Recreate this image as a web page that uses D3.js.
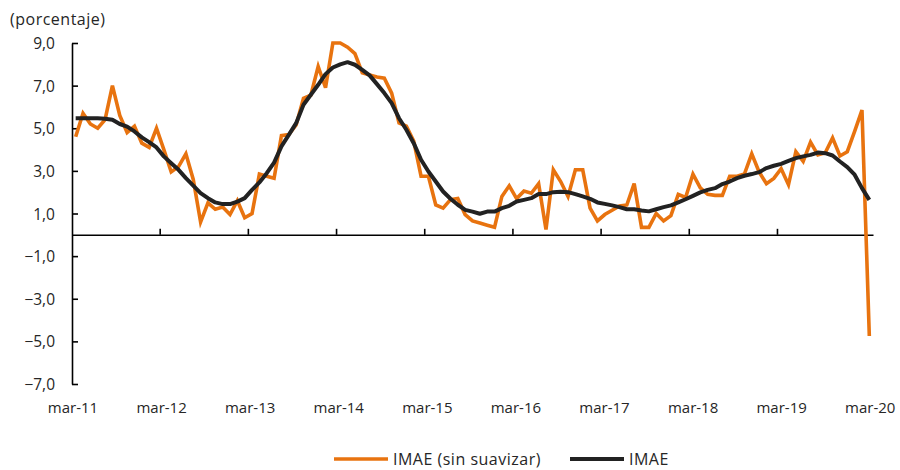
<!DOCTYPE html>
<html>
<head>
<meta charset="utf-8">
<script src="https://cdn.jsdelivr.net/npm/d3@7"></script>
<style>
  html, body { margin: 0; padding: 0; background: #ffffff; }
  svg { display: block; }
  text { font-family: "Open Sans", "Noto Sans", sans-serif; fill: #262626; }
</style>
</head>
<body>
<svg id="chart" width="900" height="470"></svg>
<script>
// ---- Data (monthly, mar-11 .. mar-20) ----
const tickLabels = ["mar-11","mar-12","mar-13","mar-14","mar-15","mar-16","mar-17","mar-18","mar-19","mar-20"];
const yTicks = [-7,-5,-3,-1,1,3,5,7,9];

const imaeRaw = [
  4.6,5.7,5.2,5.0,5.4,7.0,5.6,4.8,5.1,4.3,4.1,5.0,
  4.0,2.95,3.2,3.8,2.6,0.6,1.5,1.2,1.3,0.95,1.6,0.8,
  1.0,2.85,2.75,2.65,4.65,4.7,5.15,6.4,6.55,7.9,6.9,9.0,
  9.0,8.8,8.5,7.6,7.5,7.4,7.35,6.65,5.25,5.1,4.4,2.75,
  2.75,1.4,1.25,1.65,1.7,0.95,0.65,0.55,0.45,0.35,1.8,2.3,
  1.7,2.05,1.95,2.4,0.25,3.05,2.5,1.8,3.05,3.05,1.25,0.65,
  0.95,1.15,1.35,1.4,2.4,0.35,0.35,1.0,0.65,0.9,1.9,1.75,
  2.85,2.2,1.9,1.85,1.85,2.75,2.75,2.85,3.8,2.95,2.4,2.65,
  3.1,2.35,3.9,3.45,4.35,3.75,3.85,4.55,3.7,3.9,4.85,5.85,
  -4.75
];

const imae = [
  5.47,5.47,5.47,5.47,5.45,5.4,5.2,5.08,4.85,4.57,4.35,4.1,
  3.68,3.36,3.05,2.66,2.31,1.96,1.72,1.52,1.44,1.44,1.56,1.72,
  2.11,2.46,2.89,3.39,4.15,4.69,5.24,6.1,6.57,7.04,7.54,7.85,
  8.0,8.1,7.98,7.74,7.48,7.07,6.65,6.18,5.47,4.93,4.3,3.52,
  2.97,2.5,2.03,1.69,1.41,1.17,1.09,0.99,1.09,1.09,1.25,1.36,
  1.56,1.64,1.72,1.91,1.91,2.0,2.02,2.0,1.91,1.8,1.69,1.52,
  1.45,1.38,1.3,1.2,1.2,1.14,1.1,1.2,1.3,1.38,1.52,1.67,
  1.83,1.99,2.11,2.19,2.38,2.5,2.66,2.77,2.85,2.94,3.13,3.24,
  3.33,3.47,3.6,3.68,3.75,3.86,3.83,3.72,3.44,3.18,2.82,2.19,
  1.64
];

const seriesNames = ["IMAE (sin suavizar)", "IMAE"];
const seriesColors = ["#E8730F", "#222222"];

// ---- Layout ----
const svg = d3.select("#chart");
const plotLeft = 72, plotRight = 873, plotTop = 43, plotBottom = 384;

const months = d3.range(imae.length);
const x = d3.scaleBand().domain(months).range([plotLeft, plotRight]).padding(0);
const cx = i => x(i) + x.bandwidth() / 2;
const y = d3.scaleLinear().domain([-7, 9]).range([plotBottom, plotTop]);

// Y axis (ticks pointing inward)
const yAxis = d3.axisRight(y).tickValues(yTicks).tickSize(6).tickFormat("").tickSizeOuter(0);
const gy = svg.append("g").attr("transform", `translate(${plotLeft},0)`).call(yAxis);
gy.select(".domain").attr("stroke", "#000").attr("stroke-width", 1.6);
gy.selectAll(".tick line").attr("stroke", "#000").attr("stroke-width", 1.6);

svg.append("g").selectAll("text").data(yTicks).join("text")
  .attr("x", 55).attr("y", d => y(d))
  .attr("text-anchor", "end").attr("dominant-baseline", "central")
  .attr("font-size", 15.5)
  .text(d => d3.format(".1f")(d).replace(".", ","));

// X axis at zero, ticks upward at year boundaries
const tickIdx = d3.range(12, imae.length, 12);
const xAxis = d3.axisTop(x).tickValues(tickIdx).tickSize(6).tickFormat("").tickSizeOuter(0);
const gx = svg.append("g").attr("transform", `translate(0,${y(0)})`).call(xAxis);
gx.selectAll(".tick").attr("transform", d => `translate(${x(d)},0)`);
gx.select(".domain").attr("stroke", "#000").attr("stroke-width", 1.6);
gx.selectAll(".tick line").attr("stroke", "#000").attr("stroke-width", 1.6);

// X labels at bottom
svg.append("g").selectAll("text").data(tickLabels).join("text")
  .attr("x", (d, k) => x(k * 12) + 1 + k * 0.4)
  .attr("y", 413)
  .attr("text-anchor", "middle")
  .attr("font-size", 15)
  .text(d => d);

// Unit label
svg.append("text").attr("x", 10).attr("y", 25).attr("font-size", 16)
  .attr("letter-spacing", 0.5).text("(porcentaje)");

// Lines
const line = d3.line().x((d, i) => cx(i)).y(d => y(d));
svg.append("path").datum(imaeRaw).attr("d", line)
  .attr("fill", "none").attr("stroke", seriesColors[0]).attr("stroke-width", 3.6)
  .attr("stroke-linejoin", "miter");
svg.append("path").datum(imae).attr("d", line)
  .attr("fill", "none").attr("stroke", seriesColors[1]).attr("stroke-width", 4)
  .attr("stroke-linejoin", "round");

// Legend
const legend = [
  { name: seriesNames[0], color: seriesColors[0], x0: 334, w: 3.6 },
  { name: seriesNames[1], color: seriesColors[1], x0: 570, w: 4 }
];
const lg = svg.append("g");
legend.forEach(l => {
  lg.append("line").attr("x1", l.x0).attr("x2", l.x0 + 54).attr("y1", 459).attr("y2", 459)
    .attr("stroke", l.color).attr("stroke-width", l.w);
  lg.append("text").attr("x", l.x0 + 59).attr("y", 459).attr("dominant-baseline", "central")
    .attr("font-size", 16).attr("letter-spacing", 0.5).text(l.name);
});
</script>
</body>
</html>
